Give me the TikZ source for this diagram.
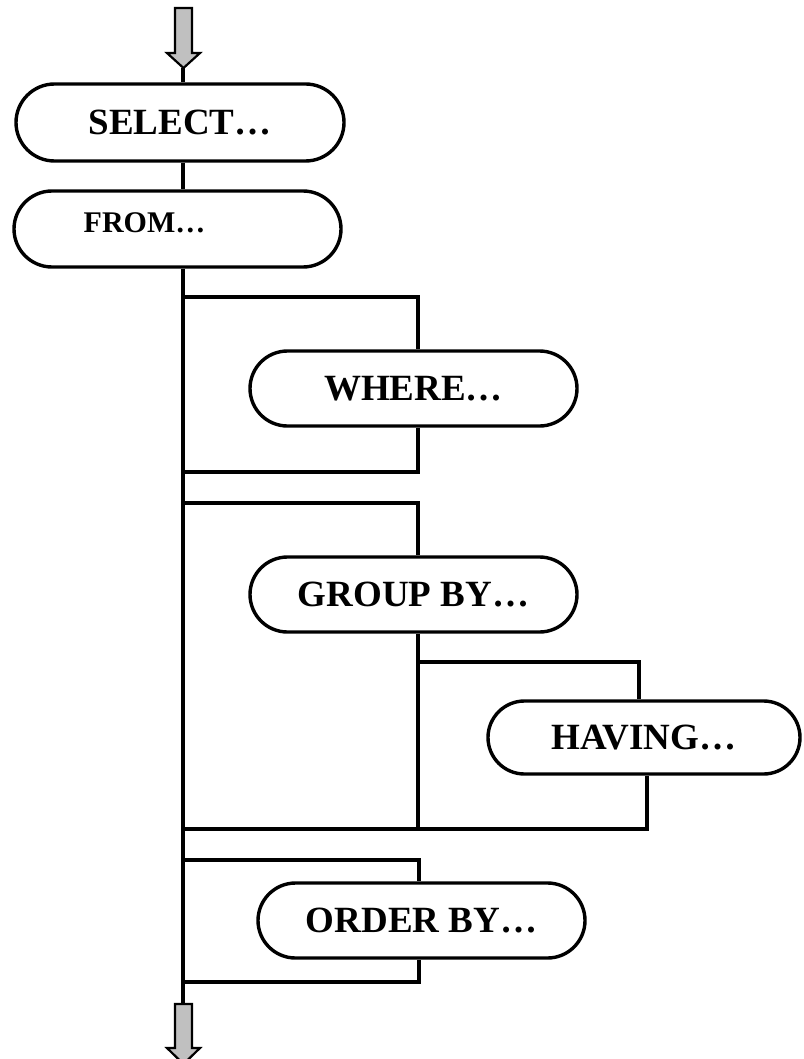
\documentclass[tikz,border=0pt]{standalone}
\usepackage{fontspec}
\setmainfont{Liberation Serif}
\usetikzlibrary{shapes.misc}
\definecolor{arrgray}{HTML}{C0C0C0}
\begin{document}
\begin{tikzpicture}[x=1pt,y=-1pt,
  sqlbox/.style={draw=black, line width=3.4pt, rounded rectangle, fill=white,
    inner sep=0pt, font=\fontsize{37}{40}\selectfont\bfseries},
  conn/.style={draw=black, line width=3.4pt},
  bigarrow/.style={draw=black, line width=2.2pt, fill=arrgray, line join=miter},
  lbl/.style={inner sep=0pt, font=\fontsize{37}{40}\selectfont\bfseries}]
\useasboundingbox[fill=white] (0,0) rectangle (803,1059);
\coordinate (spine) at (183,0);
\coordinate (wx) at (418,0);
\coordinate (hx1) at (639,0);
\coordinate (hx2) at (647,0);
\coordinate (ox) at (419,0);

% nodes
\node[sqlbox, minimum width=328pt, minimum height=77pt] (sel) at (180,122.5) {SELECT…};
\node[sqlbox, minimum width=327pt, minimum height=76pt] (from) at (177.5,229) {};
\node[lbl, font=\fontsize{30}{33}\selectfont\bfseries] (fromtext) at (144.5,223) {FROM…};
\node[sqlbox, minimum width=327pt, minimum height=75pt] (where) at (413.5,388.5) {WHERE…};
\node[sqlbox, minimum width=327pt, minimum height=75pt] (group) at (413.5,594.5) {GROUP BY…};
\node[sqlbox, minimum width=312pt, minimum height=73pt] (having) at (644,737.5) {HAVING…};
\node[sqlbox, minimum width=327pt, minimum height=75pt] (order) at (421.5,920.5) {ORDER BY…};

% end points of the spine
\coordinate (toptip) at (183.5,68);
\coordinate (botend) at (183,1004);

% top arrow
\draw[bigarrow] (175,8) -- (192,8) -- (192,53) -- (200,53) -- (toptip) -- (167,53) -- (175,53) -- cycle;
\draw[conn] (toptip -| spine) -- (sel.north -| spine);
\draw[conn] (sel.south -| spine) -- (from.north -| spine);
\draw[conn] (from.south -| spine) -- (botend);

% WHERE branch
\draw[conn] (183,297) -- (418,297) -- (where.north -| wx);
\draw[conn] (where.south -| wx) -- (418,472) -- (183,472);

% GROUP BY branch
\draw[conn] (183,503) -- (418,503) -- (group.north -| wx);
\draw[conn] (group.south -| wx) -- (418,829) -- (183,829);
\draw[conn] (418,662) -- (639,662) -- (having.north -| hx1);
\draw[conn] (having.south -| hx2) -- (647,829) -- (418,829);

% ORDER BY branch
\draw[conn] (183,860) -- (419,860) -- (order.north -| ox);
\draw[conn] (order.south -| ox) -- (419,982) -- (183,982);

% bottom arrow
\draw[bigarrow] (175,1004) -- (192,1004) -- (192,1048) -- (200,1048) -- (183.5,1064) -- (167,1048) -- (175,1048) -- cycle;
\end{tikzpicture}
\end{document}
